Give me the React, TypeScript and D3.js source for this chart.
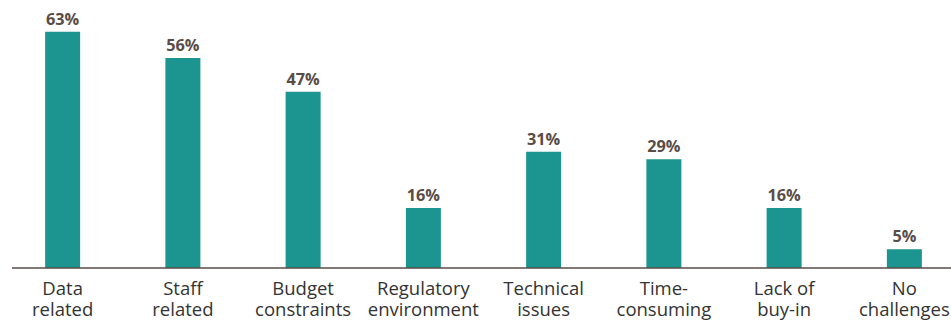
import React from "react";
import * as d3 from "d3";

// Share of respondents citing each challenge
const categories: string[][] = [
  ["Data", "related"],
  ["Staff", "related"],
  ["Budget", "constraints"],
  ["Regulatory", "environment"],
  ["Technical", "issues"],
  ["Time-", "consuming"],
  ["Lack of", "buy-in"],
  ["No", "challenges"],
];
const values: number[] = [63, 56, 47, 16, 31, 29, 16, 5];
const valueLabels: string[] = values.map((v) => `${v}%`);

const WIDTH = 951;
const HEIGHT = 323;
const BASELINE = 268;
const BAR_COLOR = "#1c9591";
const LABEL_COLOR = "#5a4c46";
const AXIS_COLOR = "#5a4c46";
const TEXT_COLOR = "#333333";
const FONT = "'Open Sans', 'Noto Sans', sans-serif";

export default function App() {
  const keys = categories.map((c) => c.join(" "));
  const x = d3
    .scaleBand<string>()
    .domain(keys)
    .range([2.5, 964.5])
    .paddingInner(0.709)
    .paddingOuter(0.3545);
  const y = d3.scaleLinear().domain([0, 100]).range([BASELINE, BASELINE - 375]);

  return (
    <svg
      width={WIDTH}
      height={HEIGHT}
      viewBox={`0 0 ${WIDTH} ${HEIGHT}`}
      style={{ position: "fixed", left: 0, top: 0, display: "block", background: "#fff" }}
    >
      {values.map((v, i) => {
        const k = keys[i];
        const bx = x(k) ?? 0;
        const bw = x.bandwidth();
        return (
          <g key={k}>
            <rect x={bx} y={y(v)} width={bw} height={BASELINE - y(v)} fill={BAR_COLOR} />
            <text
              x={bx + bw / 2}
              y={y(v) - 7}
              textAnchor="middle"
              fontFamily={FONT}
              fontWeight={700}
              fontSize={16.3}
              fill={LABEL_COLOR}
            >
              {valueLabels[i]}
            </text>
            <text
              x={bx + bw / 2}
              textAnchor="middle"
              fontFamily={FONT}
              fontSize={18.5}
              fill={TEXT_COLOR}
            >
              <tspan x={bx + bw / 2} y={295}>
                {categories[i][0]}
              </tspan>
              <tspan x={bx + bw / 2} y={316}>
                {categories[i][1]}
              </tspan>
            </text>
          </g>
        );
      })}
      <line x1={12} x2={WIDTH} y1={BASELINE} y2={BASELINE} stroke={AXIS_COLOR} strokeWidth={1.5} />
    </svg>
  );
}
